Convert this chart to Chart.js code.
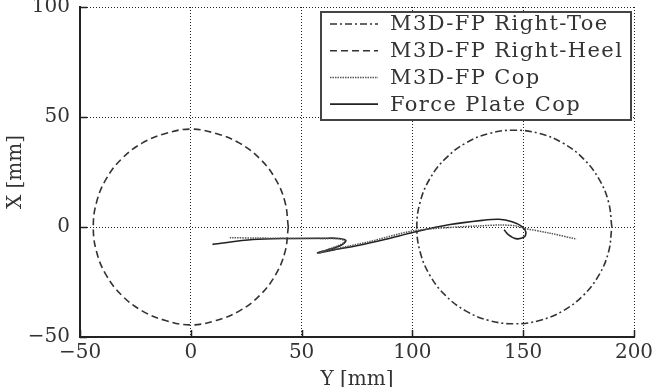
<!DOCTYPE html>
<html><head><meta charset="utf-8">
<script src="https://cdn.jsdelivr.net/npm/chart.js@4/dist/chart.umd.min.js"></script>
<style>html,body{margin:0;padding:0;background:#fff;overflow:hidden}#wrap{width:659px;height:387px;position:relative}</style>
</head><body><div id="wrap"><canvas id="c" width="659" height="387"></canvas></div>
<script>
const seriesLabels = ['M3D-FP Right-Toe', 'M3D-FP Right-Heel', 'M3D-FP Cop', 'Force Plate Cop'];
const xAxisTitle = 'Y [mm]';
const yAxisTitle = 'X [mm]';
const xTicks = [-50, 0, 50, 100, 150, 200];
const yTicks = [-50, 0, 50, 100];

// [Y, X] pairs
const toeOutline = [[190,0],[188.5,11.4],[184.1,22],[177.1,31.1],[168,38.1],[157.4,42.5],[146,44],[134.6,42.5],[124,38.1],[114.9,31.1],[107.9,22],[103.5,11.4],[102,0],[103.5,-11.4],[107.9,-22],[114.9,-31.1],[124,-38.1],[134.6,-42.5],[146,-44],[157.4,-42.5],[168,-38.1],[177.1,-31.1],[184.1,-22],[188.5,-11.4],[190,0]];
const heelOutline = [[44,0],[42.5,11.4],[38.1,22],[31.1,31.1],[22,38.1],[11.4,42.5],[0,44.5],[-11.4,42.5],[-22,38.1],[-31.1,31.1],[-38.1,22],[-42.5,11.4],[-44,0],[-42.5,-11.4],[-38.1,-22],[-31.1,-31.1],[-22,-38.1],[-11.4,-42.5],[0,-44.5],[11.4,-42.5],[22,-38.1],[31.1,-31.1],[38.1,-22],[42.5,-11.4],[44,0]];
const m3dCop = [[17.6,-4.9],[30,-5],[45,-5.2],[60,-5.3],[67,-5.4],[69.5,-6.5],[67,-8.3],[58,-11.6],[66,-9.8],[80,-6.8],[100,-1.8],[117,-0.2],[130,0.5],[140,0.9],[147,0.5],[150,-0.5],[162,-2.8],[174,-5.5]];
const plateCop = [[9.8,-7.9],[28,-5.7],[45,-5.2],[60,-5.1],[67,-5.2],[70,-6.2],[68,-8.2],[63,-10],[57.2,-11.8],[65,-10.3],[76,-8.3],[88,-5.6],[101,-2.3],[117,1.1],[131.5,3],[139,3.5],[145,2.4],[149.5,0.2],[151.2,-2.3],[150.5,-4.5],[146.7,-5.3],[143,-3.2],[141.4,-1.2]];

const toXY = arr => arr.map(p => ({x: p[0], y: p[1]}));

Chart.defaults.font.family = '"DejaVu Serif", serif';
Chart.defaults.font.size = 20;
Chart.defaults.color = '#333';

const innerTicks = {
  id: 'innerTicks',
  afterDatasetsDraw(chart) {
    const {ctx, chartArea: a, scales: {x, y}} = chart;
    ctx.save();
    ctx.strokeStyle = '#222';
    ctx.lineWidth = 1.5;
    ctx.beginPath();
    x.ticks.forEach(t => { const p = Math.round(x.getPixelForValue(t.value)) + 0.5; ctx.moveTo(p, a.bottom); ctx.lineTo(p, a.bottom - 7); });
    y.ticks.forEach(t => { const p = Math.round(y.getPixelForValue(t.value)) + 0.5; ctx.moveTo(a.left, p); ctx.lineTo(a.left + 7, p); });
    ctx.stroke();
    ctx.restore();
  }
};

const boxLegend = {
  id: 'boxLegend',
  afterDraw(chart) {
    const ctx = chart.ctx;
    const L = 321, T = 12, R = 631, B = 120;
    ctx.save();
    ctx.fillStyle = '#fff';
    ctx.fillRect(L, T, R - L, B - T);
    ctx.lineWidth = 2;
    ctx.strokeStyle = '#444';
    ctx.strokeRect(L, T, R - L, B - T);
    ctx.font = '21px "DejaVu Serif"';
    ctx.textBaseline = 'middle';
    ctx.textAlign = 'left';
    try { ctx.letterSpacing = '1.4px'; } catch (e) {}
    chart.data.datasets.forEach((ds, i) => {
      const y = 24 + i * 26.7;
      ctx.setLineDash(ds.borderDash || []);
      ctx.strokeStyle = ds.borderColor;
      ctx.lineWidth = ds.borderWidth;
      ctx.beginPath();
      ctx.moveTo(330, y);
      ctx.lineTo(378, y);
      ctx.stroke();
      ctx.setLineDash([]);
      ctx.fillStyle = '#333';
      ctx.fillText(ds.label, 390, y + 1);
    });
    ctx.restore();
  }
};

new Chart(document.getElementById('c'), {
  type: 'scatter',
  data: {
    datasets: [
      {label: seriesLabels[0], data: toXY(toeOutline), showLine: true, tension: 0.4, borderColor: '#333', borderWidth: 1.6, borderDash: [7, 3, 2, 3], pointRadius: 0},
      {label: seriesLabels[1], data: toXY(heelOutline), showLine: true, tension: 0.4, borderColor: '#333', borderWidth: 1.6, borderDash: [7, 4], pointRadius: 0},
      {label: seriesLabels[2], data: toXY(m3dCop), showLine: true, tension: 0.3, borderColor: '#555', borderWidth: 1.5, borderDash: [1.5, 1], pointRadius: 0},
      {label: seriesLabels[3], data: toXY(plateCop), showLine: true, tension: 0.3, borderColor: '#222', borderWidth: 1.6, pointRadius: 0}
    ]
  },
  options: {
    responsive: false,
    animation: false,
    devicePixelRatio: 1,
    layout: {padding: {top: 7, right: 25, left: 0, bottom: 0}},
    plugins: {legend: {display: false}, tooltip: {enabled: false}},
    scales: {
      x: {
        type: 'linear', min: -50, max: 200,
        afterBuildTicks: s => { s.ticks = xTicks.map(v => ({value: v})); },
        afterFit: s => { s.height = 50; s.paddingLeft = 0; s.paddingRight = 0; },
        ticks: {padding: 4, color: '#333', callback: v => String(v).replace('-', '\u2212')},
        grid: {color: '#222', lineWidth: 1, drawTicks: false},
        border: {display: true, color: '#222', width: 2, dash: [1, 2]},
        title: {display: true, text: xAxisTitle, color: '#333', padding: {top: 0, bottom: -5}}
      },
      y: {
        type: 'linear', min: -50, max: 100,
        afterBuildTicks: s => { s.ticks = yTicks.map(v => ({value: v})); },
        afterFit: s => { s.width = 80; s.paddingTop = 0; s.paddingBottom = 0; },
        ticks: {padding: 10, color: '#333', callback: v => String(v).replace('-', '\u2212')},
        grid: {color: '#222', lineWidth: 1, drawTicks: false},
        border: {display: true, color: '#222', width: 2, dash: [1, 2]},
        title: {display: true, text: yAxisTitle, color: '#333', padding: {top: 4, bottom: 0}}
      }
    }
  },
  plugins: [innerTicks, boxLegend]
});
</script>
</body></html>
